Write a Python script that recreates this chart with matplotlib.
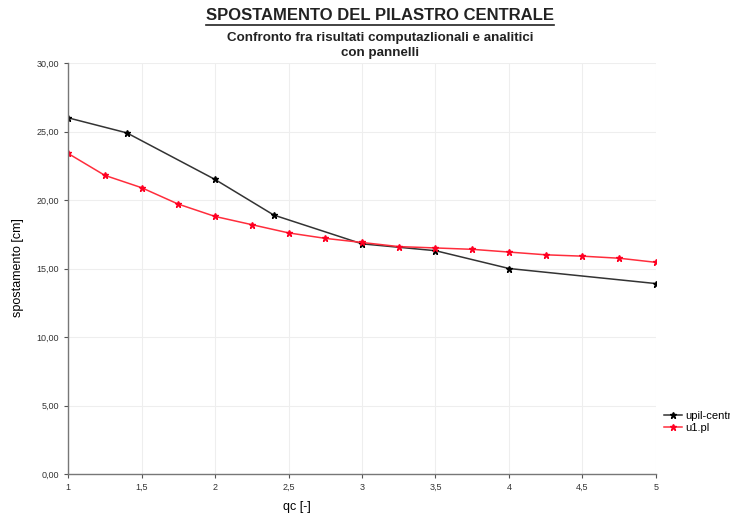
import matplotlib
matplotlib.use("Agg")
import matplotlib.pyplot as plt
from matplotlib.lines import Line2D
from matplotlib.ticker import FuncFormatter

plt.rcParams['font.family'] = ['Liberation Sans', 'DejaVu Sans']

# data
x_upil = [1, 1.4, 2, 2.4, 3, 3.5, 4, 5]
y_upil = [26.0, 24.9, 21.5, 18.9, 16.8, 16.3, 15.0, 13.9]

x_u1 = [1, 1.25, 1.5, 1.75, 2, 2.25, 2.5, 2.75, 3, 3.25, 3.5, 3.75, 4, 4.25, 4.5, 4.75, 5]
y_u1 = [23.4, 21.8, 20.9, 19.7, 18.8, 18.2, 17.6, 17.2, 16.9, 16.6, 16.5, 16.4,
        16.2, 16.0, 15.9, 15.75, 15.45]

xticks = [1, 1.5, 2, 2.5, 3, 3.5, 4, 4.5, 5]
yticks = [0, 5, 10, 15, 20, 25, 30]

fig = plt.figure(figsize=(7.3, 5.19), dpi=100)
ax = fig.add_axes([0.0932, 0.0867, 0.8054, 0.7919])

ax.plot(x_upil, y_upil, color='#333333', lw=1.1, marker='*', ms=5,
        mec='black', mfc='black', label='upil-centr')
ax.plot(x_u1, y_u1, color='#ff2d3c', lw=1.1, marker='*', ms=5,
        mec='#ff0022', mfc='#ff0022', label='u1.pl')

ax.set_xlim(1, 5)
ax.set_ylim(0, 30)
ax.set_xticks(xticks)
ax.set_yticks(yticks)
ax.xaxis.set_major_formatter(FuncFormatter(lambda v, p: ('%g' % v).replace('.', ',')))
ax.yaxis.set_major_formatter(FuncFormatter(lambda v, p: ('%.2f' % v).replace('.', ',')))
ax.tick_params(labelsize=6.5, colors='#555555', labelcolor='#333333', length=3, width=0.8)

ax.grid(True, color='#eeeeee', lw=0.8)
ax.set_axisbelow(True)
for s in ['top', 'right']:
    ax.spines[s].set_visible(False)
for s in ['left', 'bottom']:
    ax.spines[s].set_color('#777777')
    ax.spines[s].set_linewidth(1.0)

fig.text(18 / 730, 1 - 268 / 519, 'spostamento [cm]', fontsize=9, rotation=90,
         ha='center', va='center')
fig.text(297 / 730, 1 - 507 / 519, 'qc [-]', fontsize=9, ha='center', va='center')

leg = ax.legend(loc='center left', bbox_to_anchor=(1.0, 0.127), frameon=False,
                fontsize=8, handlelength=1.6, handletextpad=0.3, borderaxespad=0.3,
                labelspacing=0.2)

title = fig.text(380 / 730, 1 - 15 / 519, 'SPOSTAMENTO DEL PILASTRO CENTRALE',
                 fontsize=12, fontweight='bold', ha='center', va='center', color='#222222')
fig.text(380 / 730, 1 - 45.5 / 519, 'Confronto fra risultati computazlionali e analitici\ncon pannelli',
         fontsize=9.6, fontweight='bold', ha='center', va='center', linespacing=1.35,
         color='#222222')

# underline for the main title
fig.canvas.draw()
bb = title.get_window_extent().transformed(fig.transFigure.inverted())
fig.add_artist(Line2D([bb.x0, bb.x1], [bb.y0 - 0.004, bb.y0 - 0.004],
                      transform=fig.transFigure, color='#222222', lw=1.2))

fig.savefig('out.png', dpi=100)
